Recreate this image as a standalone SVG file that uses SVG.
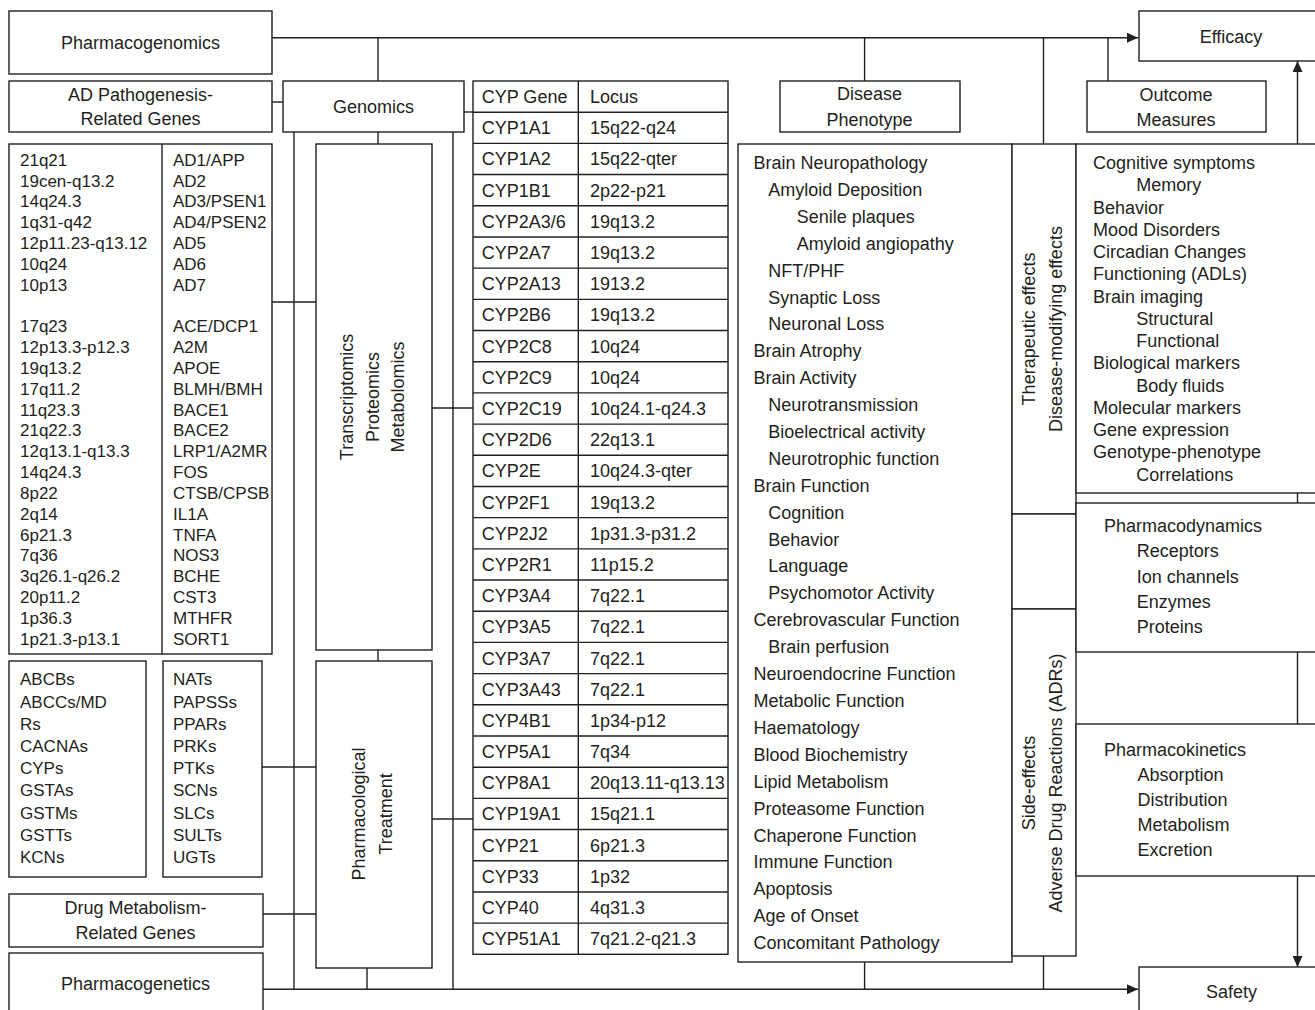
<svg xmlns="http://www.w3.org/2000/svg" width="1315" height="1010" viewBox="0 0 1315 1010">
  <style>
    .box { fill: #ffffff; stroke: #231f20; stroke-width: 1.4; }
    .ln { fill: none; stroke: #231f20; stroke-width: 1.4; }
    text { font-family: "Liberation Sans", Arial, sans-serif; font-size: 18px; fill: #231f20; }
    .c { text-anchor: middle; }
    .sm { font-size: 17px; }
  </style>
  <defs>
    <marker id="arrow" markerUnits="userSpaceOnUse" markerWidth="12" markerHeight="10" refX="11" refY="5" orient="auto">
      <path d="M0,0 L11,5 L0,10 z" fill="#231f20"/>
    </marker>
  </defs>

  <rect width="1315" height="1010" fill="#ffffff"/>

  <!-- connectors -->
  <g id="connectors" class="ln">
    <!-- top trunk to Efficacy -->
    <path d="M272,37.7 H1138" marker-end="url(#arrow)"/>
    <path d="M378,37.7 V81"/>
    <path d="M864.6,37.7 V81"/>
    <path d="M1043.5,37.7 V144"/>
    <path d="M1108,37.7 V81"/>
    <!-- bottom trunk to Safety -->
    <path d="M263,989.3 H1138" marker-end="url(#arrow)"/>
    <path d="M864.6,962 V989.3"/>
    <path d="M1043.5,956 V989.3"/>
    <path d="M367,968 V989.3"/>
    <!-- genomics branch -->
    <path d="M272,102 H283"/>
    <path d="M464,112 H473"/>
    <path d="M378,132 V144"/>
    <path d="M294,132 V989.3"/>
    <path d="M453,132 V989.3"/>
    <path d="M272,302 H316"/>
    <path d="M432,408 H473"/>
    <path d="M378,650 V661"/>
    <path d="M262,767 H316"/>
    <path d="M432,819 H473"/>
    <path d="M263,914 H316"/>
    <!-- middle column link -->
    <path d="M1043.5,514 V609"/>
    <!-- outcome side to Efficacy / Safety -->
    <path d="M1297.5,144 V61" marker-end="url(#arrow)"/>
    <path d="M1297.5,493 V503"/>
    <path d="M1297.5,652 V724"/>
    <path d="M1297.5,876 V967" marker-end="url(#arrow)"/>
  </g>

  <!-- left side -->
  <g id="pharmacogenomics">
    <rect class="box" x="9" y="11" width="263" height="63"/>
    <text class="c" x="140.5" y="49">Pharmacogenomics</text>
  </g>

  <g id="ad-genes">
    <rect class="box" x="9" y="81" width="263" height="51"/>
    <text class="c" x="140.5" y="100.7">AD Pathogenesis-</text>
    <text class="c" x="140.5" y="124.7">Related Genes</text>
  </g>

  <g id="genomics">
    <rect class="box" x="283" y="81" width="181" height="51"/>
    <text class="c" x="373.5" y="113.3">Genomics</text>
  </g>

  <g id="ad-gene-table">
    <rect class="box" x="9" y="144" width="263" height="510"/>
    <path class="ln" d="M162,144 V654"/>
    <text class="sm" x="20" y="165.7">
      <tspan x="20">21q21</tspan>
      <tspan x="20" dy="20.83">19cen-q13.2</tspan>
      <tspan x="20" dy="20.83">14q24.3</tspan>
      <tspan x="20" dy="20.83">1q31-q42</tspan>
      <tspan x="20" dy="20.83">12p11.23-q13.12</tspan>
      <tspan x="20" dy="20.83">10q24</tspan>
      <tspan x="20" dy="20.83">10p13</tspan>
      <tspan x="20" dy="41.66">17q23</tspan>
      <tspan x="20" dy="20.83">12p13.3-p12.3</tspan>
      <tspan x="20" dy="20.83">19q13.2</tspan>
      <tspan x="20" dy="20.83">17q11.2</tspan>
      <tspan x="20" dy="20.83">11q23.3</tspan>
      <tspan x="20" dy="20.83">21q22.3</tspan>
      <tspan x="20" dy="20.83">12q13.1-q13.3</tspan>
      <tspan x="20" dy="20.83">14q24.3</tspan>
      <tspan x="20" dy="20.83">8p22</tspan>
      <tspan x="20" dy="20.83">2q14</tspan>
      <tspan x="20" dy="20.83">6p21.3</tspan>
      <tspan x="20" dy="20.83">7q36</tspan>
      <tspan x="20" dy="20.83">3q26.1-q26.2</tspan>
      <tspan x="20" dy="20.83">20p11.2</tspan>
      <tspan x="20" dy="20.83">1p36.3</tspan>
      <tspan x="20" dy="20.83">1p21.3-p13.1</tspan>
    </text>
    <text class="sm" x="173" y="165.7">
      <tspan x="173">AD1/APP</tspan>
      <tspan x="173" dy="20.83">AD2</tspan>
      <tspan x="173" dy="20.83">AD3/PSEN1</tspan>
      <tspan x="173" dy="20.83">AD4/PSEN2</tspan>
      <tspan x="173" dy="20.83">AD5</tspan>
      <tspan x="173" dy="20.83">AD6</tspan>
      <tspan x="173" dy="20.83">AD7</tspan>
      <tspan x="173" dy="41.66">ACE/DCP1</tspan>
      <tspan x="173" dy="20.83">A2M</tspan>
      <tspan x="173" dy="20.83">APOE</tspan>
      <tspan x="173" dy="20.83">BLMH/BMH</tspan>
      <tspan x="173" dy="20.83">BACE1</tspan>
      <tspan x="173" dy="20.83">BACE2</tspan>
      <tspan x="173" dy="20.83">LRP1/A2MR</tspan>
      <tspan x="173" dy="20.83">FOS</tspan>
      <tspan x="173" dy="20.83">CTSB/CPSB</tspan>
      <tspan x="173" dy="20.83">IL1A</tspan>
      <tspan x="173" dy="20.83">TNFA</tspan>
      <tspan x="173" dy="20.83">NOS3</tspan>
      <tspan x="173" dy="20.83">BCHE</tspan>
      <tspan x="173" dy="20.83">CST3</tspan>
      <tspan x="173" dy="20.83">MTHFR</tspan>
      <tspan x="173" dy="20.83">SORT1</tspan>
    </text>
  </g>

  <g id="omics">
    <rect class="box" x="316" y="144" width="116" height="506"/>
    <text class="c" transform="translate(353,397) rotate(-90)">Transcriptomics</text>
    <text class="c" transform="translate(378.5,397) rotate(-90)">Proteomics</text>
    <text class="c" transform="translate(403.8,397) rotate(-90)">Metabolomics</text>
  </g>

  <g id="transporter-genes">
    <rect class="box" x="9" y="661" width="137" height="216"/>
    <text class="sm" x="20" y="685.4">
      <tspan x="20">ABCBs</tspan>
      <tspan x="20" dy="22.2">ABCCs/MD</tspan>
      <tspan x="20" dy="22.2">Rs</tspan>
      <tspan x="20" dy="22.2">CACNAs</tspan>
      <tspan x="20" dy="22.2">CYPs</tspan>
      <tspan x="20" dy="22.2">GSTAs</tspan>
      <tspan x="20" dy="22.2">GSTMs</tspan>
      <tspan x="20" dy="22.2">GSTTs</tspan>
      <tspan x="20" dy="22.2">KCNs</tspan>
    </text>
  </g>

  <g id="enzyme-genes">
    <rect class="box" x="163" y="661" width="99" height="216"/>
    <text class="sm" x="173" y="685.4">
      <tspan x="173">NATs</tspan>
      <tspan x="173" dy="22.2">PAPSSs</tspan>
      <tspan x="173" dy="22.2">PPARs</tspan>
      <tspan x="173" dy="22.2">PRKs</tspan>
      <tspan x="173" dy="22.2">PTKs</tspan>
      <tspan x="173" dy="22.2">SCNs</tspan>
      <tspan x="173" dy="22.2">SLCs</tspan>
      <tspan x="173" dy="22.2">SULTs</tspan>
      <tspan x="173" dy="22.2">UGTs</tspan>
    </text>
  </g>

  <g id="pharmacological-treatment">
    <rect class="box" x="316" y="661" width="116" height="307"/>
    <text class="c" transform="translate(364.6,814) rotate(-90)">Pharmacological</text>
    <text class="c" transform="translate(392.2,814) rotate(-90)">Treatment</text>
  </g>

  <g id="drug-metabolism-genes">
    <rect class="box" x="9" y="894" width="254" height="53"/>
    <text class="c" x="135.5" y="914.3">Drug Metabolism-</text>
    <text class="c" x="135.5" y="939">Related Genes</text>
  </g>

  <g id="pharmacogenetics">
    <rect class="box" x="9" y="953" width="254" height="70"/>
    <text class="c" x="135.5" y="990">Pharmacogenetics</text>
  </g>

  <!-- CYP gene / locus table -->
  <g id="cyp-table">
    <rect class="box" x="473" y="81" width="255" height="873.3"/>
    <path class="ln" d="M578.3,81 V954.3
      M473,112.19 H728 M473,143.38 H728 M473,174.57 H728 M473,205.76 H728
      M473,236.95 H728 M473,268.14 H728 M473,299.33 H728 M473,330.52 H728
      M473,361.71 H728 M473,392.9 H728 M473,424.09 H728 M473,455.28 H728
      M473,486.47 H728 M473,517.66 H728 M473,548.85 H728 M473,580.04 H728
      M473,611.23 H728 M473,642.42 H728 M473,673.61 H728 M473,704.8 H728
      M473,735.99 H728 M473,767.18 H728 M473,798.37 H728 M473,829.56 H728
      M473,860.75 H728 M473,891.94 H728 M473,923.13 H728"/>
    <text x="481.7" y="103.1">
      <tspan x="481.7">CYP Gene</tspan>
      <tspan x="481.7" dy="31.19">CYP1A1</tspan>
      <tspan x="481.7" dy="31.19">CYP1A2</tspan>
      <tspan x="481.7" dy="31.19">CYP1B1</tspan>
      <tspan x="481.7" dy="31.19">CYP2A3/6</tspan>
      <tspan x="481.7" dy="31.19">CYP2A7</tspan>
      <tspan x="481.7" dy="31.19">CYP2A13</tspan>
      <tspan x="481.7" dy="31.19">CYP2B6</tspan>
      <tspan x="481.7" dy="31.19">CYP2C8</tspan>
      <tspan x="481.7" dy="31.19">CYP2C9</tspan>
      <tspan x="481.7" dy="31.19">CYP2C19</tspan>
      <tspan x="481.7" dy="31.19">CYP2D6</tspan>
      <tspan x="481.7" dy="31.19">CYP2E</tspan>
      <tspan x="481.7" dy="31.19">CYP2F1</tspan>
      <tspan x="481.7" dy="31.19">CYP2J2</tspan>
      <tspan x="481.7" dy="31.19">CYP2R1</tspan>
      <tspan x="481.7" dy="31.19">CYP3A4</tspan>
      <tspan x="481.7" dy="31.19">CYP3A5</tspan>
      <tspan x="481.7" dy="31.19">CYP3A7</tspan>
      <tspan x="481.7" dy="31.19">CYP3A43</tspan>
      <tspan x="481.7" dy="31.19">CYP4B1</tspan>
      <tspan x="481.7" dy="31.19">CYP5A1</tspan>
      <tspan x="481.7" dy="31.19">CYP8A1</tspan>
      <tspan x="481.7" dy="31.19">CYP19A1</tspan>
      <tspan x="481.7" dy="31.19">CYP21</tspan>
      <tspan x="481.7" dy="31.19">CYP33</tspan>
      <tspan x="481.7" dy="31.19">CYP40</tspan>
      <tspan x="481.7" dy="31.19">CYP51A1</tspan>
    </text>
    <text x="590" y="103.1">
      <tspan x="590">Locus</tspan>
      <tspan x="590" dy="31.19">15q22-q24</tspan>
      <tspan x="590" dy="31.19">15q22-qter</tspan>
      <tspan x="590" dy="31.19">2p22-p21</tspan>
      <tspan x="590" dy="31.19">19q13.2</tspan>
      <tspan x="590" dy="31.19">19q13.2</tspan>
      <tspan x="590" dy="31.19">1913.2</tspan>
      <tspan x="590" dy="31.19">19q13.2</tspan>
      <tspan x="590" dy="31.19">10q24</tspan>
      <tspan x="590" dy="31.19">10q24</tspan>
      <tspan x="590" dy="31.19">10q24.1-q24.3</tspan>
      <tspan x="590" dy="31.19">22q13.1</tspan>
      <tspan x="590" dy="31.19">10q24.3-qter</tspan>
      <tspan x="590" dy="31.19">19q13.2</tspan>
      <tspan x="590" dy="31.19">1p31.3-p31.2</tspan>
      <tspan x="590" dy="31.19">11p15.2</tspan>
      <tspan x="590" dy="31.19">7q22.1</tspan>
      <tspan x="590" dy="31.19">7q22.1</tspan>
      <tspan x="590" dy="31.19">7q22.1</tspan>
      <tspan x="590" dy="31.19">7q22.1</tspan>
      <tspan x="590" dy="31.19">1p34-p12</tspan>
      <tspan x="590" dy="31.19">7q34</tspan>
      <tspan x="590" dy="31.19">20q13.11-q13.13</tspan>
      <tspan x="590" dy="31.19">15q21.1</tspan>
      <tspan x="590" dy="31.19">6p21.3</tspan>
      <tspan x="590" dy="31.19">1p32</tspan>
      <tspan x="590" dy="31.19">4q31.3</tspan>
      <tspan x="590" dy="31.19">7q21.2-q21.3</tspan>
    </text>
  </g>

  <!-- right side -->
  <g id="disease-phenotype">
    <rect class="box" x="780" y="81" width="180" height="51"/>
    <text class="c" x="869.5" y="100">Disease</text>
    <text class="c" x="869.5" y="125.7">Phenotype</text>
  </g>

  <g id="phenotype-list">
    <rect class="box" x="738" y="144" width="274" height="818"/>
    <text x="753.4" y="169">
      <tspan x="753.4">Brain Neuropathology</tspan>
      <tspan x="768.2" dy="26.9">Amyloid Deposition</tspan>
      <tspan x="796.7" dy="26.9">Senile plaques</tspan>
      <tspan x="796.7" dy="26.9">Amyloid angiopathy</tspan>
      <tspan x="768.2" dy="26.9">NFT/PHF</tspan>
      <tspan x="768.2" dy="26.9">Synaptic Loss</tspan>
      <tspan x="768.2" dy="26.9">Neuronal Loss</tspan>
      <tspan x="753.4" dy="26.9">Brain Atrophy</tspan>
      <tspan x="753.4" dy="26.9">Brain Activity</tspan>
      <tspan x="768.2" dy="26.9">Neurotransmission</tspan>
      <tspan x="768.2" dy="26.9">Bioelectrical activity</tspan>
      <tspan x="768.2" dy="26.9">Neurotrophic function</tspan>
      <tspan x="753.4" dy="26.9">Brain Function</tspan>
      <tspan x="768.2" dy="26.9">Cognition</tspan>
      <tspan x="768.2" dy="26.9">Behavior</tspan>
      <tspan x="768.2" dy="26.9">Language</tspan>
      <tspan x="768.2" dy="26.9">Psychomotor Activity</tspan>
      <tspan x="753.4" dy="26.9">Cerebrovascular Function</tspan>
      <tspan x="768.2" dy="26.9">Brain perfusion</tspan>
      <tspan x="753.4" dy="26.9">Neuroendocrine Function</tspan>
      <tspan x="753.4" dy="26.9">Metabolic Function</tspan>
      <tspan x="753.4" dy="26.9">Haematology</tspan>
      <tspan x="753.4" dy="26.9">Blood Biochemistry</tspan>
      <tspan x="753.4" dy="26.9">Lipid Metabolism</tspan>
      <tspan x="753.4" dy="26.9">Proteasome Function</tspan>
      <tspan x="753.4" dy="26.9">Chaperone Function</tspan>
      <tspan x="753.4" dy="26.9">Immune Function</tspan>
      <tspan x="753.4" dy="26.9">Apoptosis</tspan>
      <tspan x="753.4" dy="26.9">Age of Onset</tspan>
      <tspan x="753.4" dy="26.9">Concomitant Pathology</tspan>
    </text>
  </g>

  <g id="therapeutic-effects">
    <rect class="box" x="1012" y="144" width="64" height="370"/>
    <text class="c" transform="translate(1035.4,329) rotate(-90)">Therapeutic effects</text>
    <text class="c" transform="translate(1061.6,329) rotate(-90)">Disease-modifying effects</text>
  </g>

  <g id="effects-link">
    <rect class="box" x="1012" y="514" width="64" height="95"/>
  </g>

  <g id="side-effects">
    <rect class="box" x="1012" y="609" width="64" height="347"/>
    <text class="c" transform="translate(1035.4,783) rotate(-90)">Side-effects</text>
    <text class="c" transform="translate(1061.6,783) rotate(-90)">Adverse Drug Reactions (ADRs)</text>
  </g>

  <g id="outcome-measures">
    <rect class="box" x="1087" y="81" width="179" height="51"/>
    <text class="c" x="1176" y="100.7">Outcome</text>
    <text class="c" x="1176" y="126">Measures</text>
  </g>

  <g id="efficacy">
    <rect class="box" x="1139" y="11" width="200" height="50"/>
    <text class="c" x="1231" y="42.7">Efficacy</text>
  </g>

  <g id="outcome-list">
    <rect class="box" x="1076" y="144" width="260" height="349"/>
    <text x="1093" y="169">
      <tspan x="1093">Cognitive symptoms</tspan>
      <tspan x="1136.3" dy="22.26">Memory</tspan>
      <tspan x="1093" dy="22.26">Behavior</tspan>
      <tspan x="1093" dy="22.26">Mood Disorders</tspan>
      <tspan x="1093" dy="22.26">Circadian Changes</tspan>
      <tspan x="1093" dy="22.26">Functioning (ADLs)</tspan>
      <tspan x="1093" dy="22.26">Brain imaging</tspan>
      <tspan x="1136.3" dy="22.26">Structural</tspan>
      <tspan x="1136.3" dy="22.26">Functional</tspan>
      <tspan x="1093" dy="22.26">Biological markers</tspan>
      <tspan x="1136.3" dy="22.26">Body fluids</tspan>
      <tspan x="1093" dy="22.26">Molecular markers</tspan>
      <tspan x="1093" dy="22.26">Gene expression</tspan>
      <tspan x="1093" dy="22.26">Genotype-phenotype</tspan>
      <tspan x="1136.3" dy="22.26">Correlations</tspan>
    </text>
  </g>

  <g id="pharmacodynamics">
    <rect class="box" x="1076" y="503" width="260" height="149"/>
    <text x="1104" y="532">
      <tspan x="1104">Pharmacodynamics</tspan>
      <tspan x="1136.7" dy="25.25">Receptors</tspan>
      <tspan x="1136.7" dy="25.25">Ion channels</tspan>
      <tspan x="1136.7" dy="25.25">Enzymes</tspan>
      <tspan x="1136.7" dy="25.25">Proteins</tspan>
    </text>
  </g>

  <g id="pharmacokinetics">
    <rect class="box" x="1076" y="724" width="260" height="152"/>
    <text x="1104" y="755.5">
      <tspan x="1104">Pharmacokinetics</tspan>
      <tspan x="1137.5" dy="25.2">Absorption</tspan>
      <tspan x="1137.5" dy="25.2">Distribution</tspan>
      <tspan x="1137.5" dy="25.2">Metabolism</tspan>
      <tspan x="1137.5" dy="25.2">Excretion</tspan>
    </text>
  </g>

  <g id="safety">
    <rect class="box" x="1139" y="967" width="200" height="60"/>
    <text class="c" x="1231.5" y="998.3">Safety</text>
  </g>
</svg>
